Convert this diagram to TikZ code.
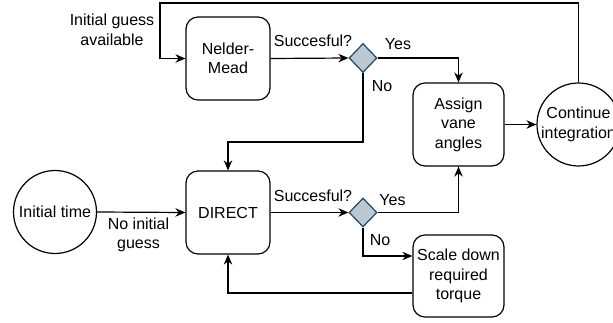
\documentclass[tikz,border=0pt]{standalone}
\usepackage{fontspec}
\setmainfont{Liberation Sans}
\usetikzlibrary{arrows.meta,shapes.geometric}

\definecolor{decfill}{RGB}{186,200,211}
\definecolor{decline}{RGB}{35,68,93}

\begin{document}
\begin{tikzpicture}[x=1pt, y=-1pt, line width=1.2pt,
    font=\fontsize{16}{19.5}\selectfont,
    box/.style={draw, rounded corners=12pt, align=center, inner sep=0pt},
    state/.style={draw, circle, align=center, inner sep=0pt, minimum size=83pt},
    decision/.style={draw=decline, fill=decfill, diamond, inner sep=0pt, minimum width=28pt, minimum height=29pt},
    arr/.style={-{Stealth[length=10pt, width=8.5pt]}},
    lbl/.style={align=center, inner sep=0pt}]
    \useasboundingbox (0,0) rectangle (613,323);

    % Blocks
    \node[box, minimum width=84pt, minimum height=83pt] (nm) at (228,58.5) {Nelder-\\Mead};
    \node[box, minimum width=84pt, minimum height=83pt] (direct) at (228,212.5) {DIRECT};
    \node[box, minimum width=91pt, minimum height=83pt] (assign) at (458.5,124.5) {Assign\\vane\\angles};
    \node[box, minimum width=91pt, minimum height=82pt] (scale) at (458.5,276) {Scale down\\required\\torque};

    % States
    \node[state] (init) at (55,212) {Initial time};
    \node[state] (cont) at (578.5,124.5) {Continue\\integration};

    % Decisions
    \node[decision] (dec1) at (363,58) {};
    \node[decision] (dec2) at (363,212.5) {};

    % Loop back over the top
    \coordinate (loop) at (160,3);
    \draw[arr] (cont.north) |- (loop) |- (nm.west);

    % Connectors
    \draw[arr] (nm.east) -- (dec1.west);
    \draw[arr] (dec1.east) -| (assign.north);
    \draw[arr] (dec1.south) -- ++(0,69) -| (direct.north);
    \draw[arr] (init.east) -- (direct.west);
    \draw[arr] (direct.east) -- (dec2.west);
    \draw[arr] (dec2.east) -| (assign.south);
    \draw[arr] (dec2.south) |- ([yshift=20pt]scale.west);
    \draw[arr] ([yshift=-17pt]scale.west) -| (direct.south);
    \draw[arr] (assign.east) -- (cont.west);

    % Labels
    \node[lbl] (guess) at (112,30) {Initial guess\\available};
    \node[lbl] (succ1) at (313,41) {Succesful?};
    \node[lbl] (yes1) at (398,44) {Yes};
    \node[lbl] (no1) at (382,86) {No};
    \node[lbl] (noguess) at (138.5,235) {No initial\\guess};
    \node[lbl] (succ2) at (313,196) {Succesful?};
    \node[lbl] (yes2) at (392.5,200) {Yes};
    \node[lbl] (no2) at (380,240) {No};
\end{tikzpicture}
\end{document}
